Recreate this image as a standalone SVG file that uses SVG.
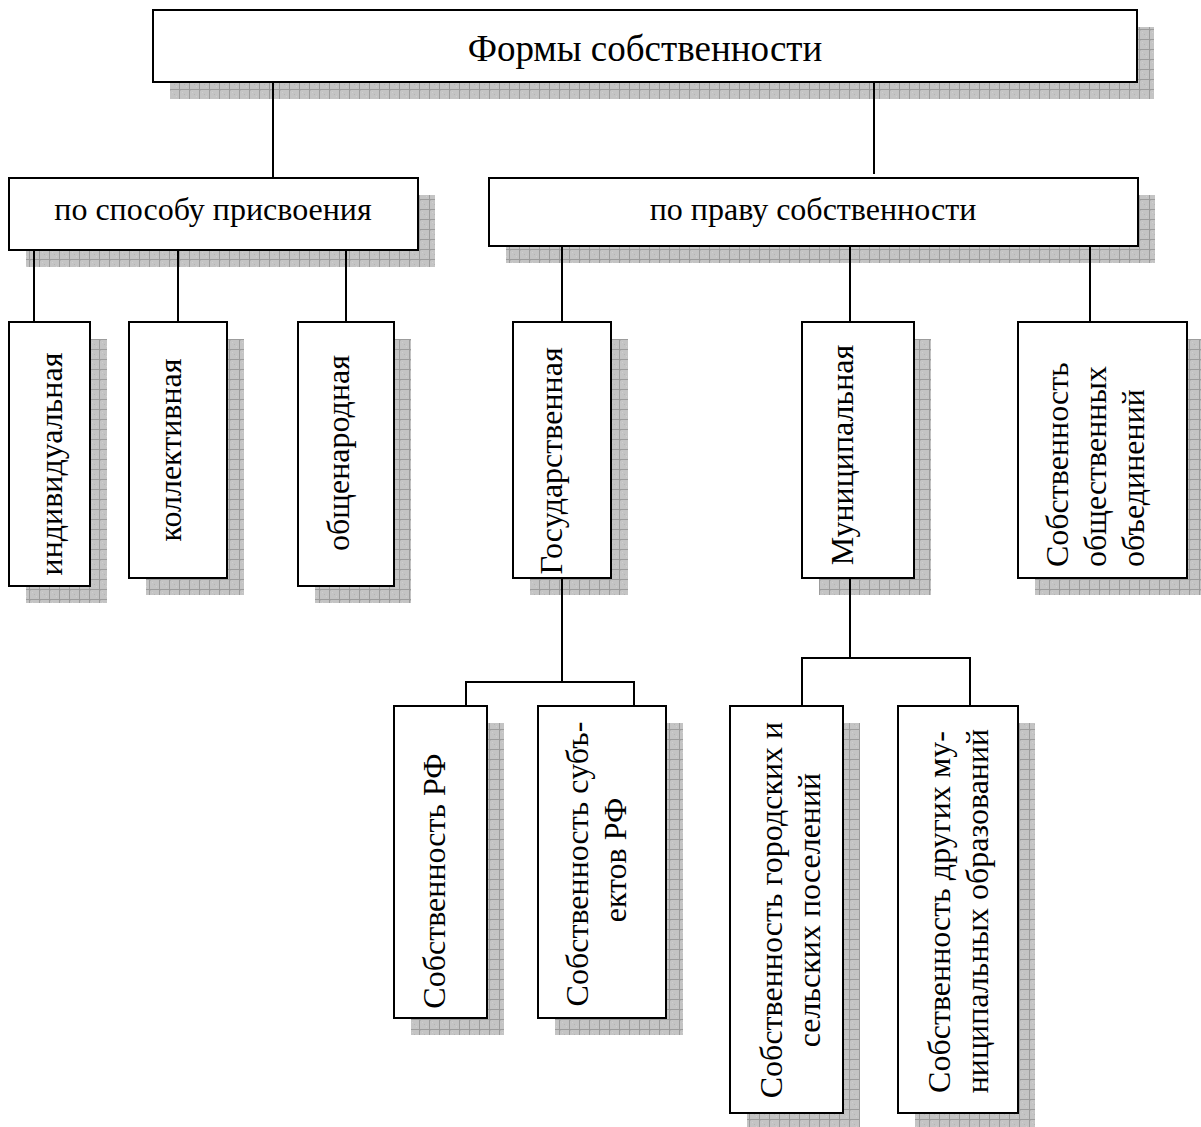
<svg xmlns="http://www.w3.org/2000/svg" width="1201" height="1127" viewBox="0 0 1201 1127">
<style>
.box{fill:#fff;stroke:#000;stroke-width:2}
.sh{fill:url(#grid)}
.t{font-family:'Liberation Serif','DejaVu Serif','Times New Roman',serif;font-size:32px;fill:#000}
.c{fill:none;stroke:#000;stroke-width:2}
</style>
<defs>
<pattern id="grid" patternUnits="userSpaceOnUse" x="0" y="0" width="10" height="10">
<rect width="10" height="10" fill="#c4c4c4"/>
<rect x="0" y="0" width="1" height="1" fill="#b4b4b4"/>
<rect x="2" y="2" width="1" height="1" fill="#d0d0d0"/>
<rect x="4" y="4" width="1" height="1" fill="#b4b4b4"/>
<rect x="6" y="6" width="1" height="1" fill="#d0d0d0"/>
<path d="M9.5 0V10M0 9.5H10" stroke="#9c9c9c" stroke-width="1"/>
</pattern>
</defs>

<g id="n-root">
<rect class="sh" x="170" y="27" width="984" height="72"/>
<rect class="box" x="153" y="10" width="984" height="72"/>
<text class="t" x="645" y="61" text-anchor="middle" font-family="Liberation Serif" style="font-size:37px">Формы собственности</text>
</g>

<g id="n-sposob">
<rect class="sh" x="26" y="195" width="409" height="72"/>
<rect class="box" x="9" y="178" width="409" height="72"/>
<text class="t" x="213" y="220" text-anchor="middle">по способу присвоения</text>
</g>

<g id="n-pravo">
<rect class="sh" x="506" y="195" width="649" height="68"/>
<rect class="box" x="489" y="178" width="649" height="68"/>
<text class="t" x="813" y="220" text-anchor="middle">по праву собственности</text>
</g>

<g id="n-ind">
<rect class="sh" x="26" y="339" width="81" height="264"/>
<rect class="box" x="9" y="322" width="81" height="264"/>
<text class="t" transform="translate(62,464) rotate(-90)" text-anchor="middle">индивидуальная</text>
</g>

<g id="n-koll">
<rect class="sh" x="146" y="339" width="98" height="256"/>
<rect class="box" x="129" y="322" width="98" height="256"/>
<text class="t" transform="translate(181,450) rotate(-90)" text-anchor="middle">коллективная</text>
</g>

<g id="n-obsh">
<rect class="sh" x="315" y="339" width="96" height="264"/>
<rect class="box" x="298" y="322" width="96" height="264"/>
<text class="t" transform="translate(349,453) rotate(-90)" text-anchor="middle">общенародная</text>
</g>

<g id="n-gos">
<rect class="sh" x="530" y="339" width="98" height="256"/>
<rect class="box" x="513" y="322" width="98" height="256"/>
<text class="t" transform="translate(562,461) rotate(-90)" text-anchor="middle">Государственная</text>
</g>

<g id="n-mun">
<rect class="sh" x="819" y="339" width="112" height="256"/>
<rect class="box" x="802" y="322" width="112" height="256"/>
<text class="t" transform="translate(853,455) rotate(-90)" text-anchor="middle">Муниципальная</text>
</g>

<g id="n-obed">
<rect class="sh" x="1035" y="339" width="169" height="256"/>
<rect class="box" x="1018" y="322" width="169" height="256"/>
<text class="t" transform="translate(1068,567) rotate(-90)">Собственность</text>
<text class="t" transform="translate(1106,567) rotate(-90)">общественных</text>
<text class="t" transform="translate(1144,567) rotate(-90)">объединений</text>
</g>

<g id="n-rf">
<rect class="sh" x="411" y="723" width="93" height="312"/>
<rect class="box" x="394" y="706" width="93" height="312"/>
<text class="t" transform="translate(445,881) rotate(-90)" text-anchor="middle">Собственность РФ</text>
</g>

<g id="n-subj">
<rect class="sh" x="555" y="723" width="128" height="312"/>
<rect class="box" x="538" y="706" width="128" height="312"/>
<text class="t" transform="translate(588,864) rotate(-90)" text-anchor="middle">Собственность субъ-</text>
<text class="t" transform="translate(626,860) rotate(-90)" text-anchor="middle">ектов РФ</text>
</g>

<g id="n-gor">
<rect class="sh" x="747" y="723" width="113" height="407"/>
<rect class="box" x="730" y="706" width="113" height="407"/>
<text class="t" transform="translate(782,910) rotate(-90)" text-anchor="middle">Собственность городских и</text>
<text class="t" transform="translate(820,910) rotate(-90)" text-anchor="middle">сельских поселений</text>
</g>

<g id="n-dr">
<rect class="sh" x="915" y="723" width="120" height="407"/>
<rect class="box" x="898" y="706" width="120" height="407"/>
<text class="t" transform="translate(950,912) rotate(-90)" text-anchor="middle">Собственность других му-</text>
<text class="t" transform="translate(988,911) rotate(-90)" text-anchor="middle">ниципальных образований</text>
</g>

<g id="connectors">
<path class="c" d="M273 83V178"/>
<path class="c" d="M874 83V174"/>
<path class="c" d="M34 251V322M178 251V322M346 251V322"/>
<path class="c" d="M562 247V322M850 247V322M1090 247V322"/>
<path class="c" d="M562 579V682M466 682H634M466 681V706M634 681V706"/>
<path class="c" d="M850 579V658M802 658H970M802 657V706M970 657V706"/>
</g>
</svg>
